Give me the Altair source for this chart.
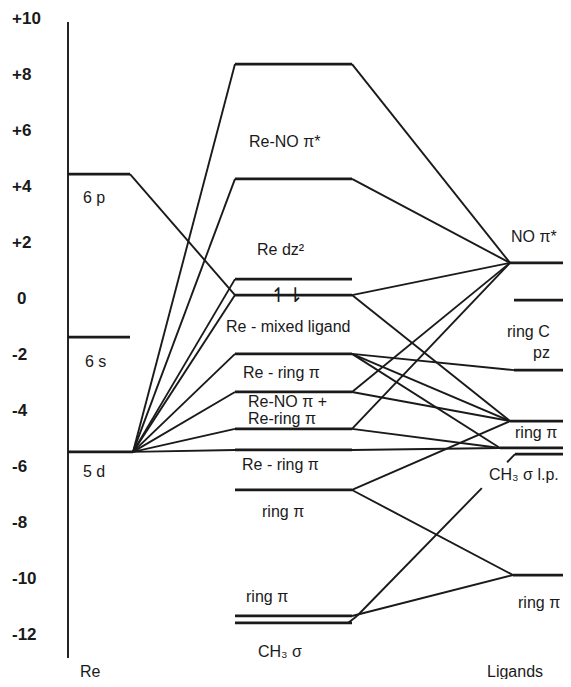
import altair as alt
import pandas as pd

# ---------------- data (energies in eV) ----------------
TICK_VALUES = [10, 8, 6, 4, 2, 0, -2, -4, -6, -8, -10, -12]
TICK_LABELS = ["+10", "+8", "+6", "+4", "+2", "0", "-2", "-4", "-6", "-8", "-10", "-12"]

RE_NAMES = ["6 p", "6 s", "5 d"]
RE_ENERGY = [4.46, -1.36, -5.46]

MO_ENERGY = [8.39, 4.29, 0.71, 0.14, -1.96, -3.32, -4.64, -5.39, -6.82, -11.32, -11.57]

LIG_NAMES = ["NO π*", "ring C pz (a)", "ring C pz (b)", "ring π (a)", "ring π (b)", "CH3 σ l.p.", "ring π (c)"]
LIG_ENERGY = [1.29, -0.04, -2.54, -4.36, -5.32, -5.54, -9.86]

# correlation lines
RE_TO_MO = [(0, 3), (2, 0), (2, 1), (2, 2), (2, 3), (2, 4), (2, 5), (2, 6), (2, 7)]
MO_TO_LIG = [(0, 0), (1, 0), (3, 0), (3, 3), (4, 2), (4, 3), (4, 4), (5, 0), (5, 3),
             (6, 0), (6, 4), (7, 4), (8, 3), (8, 6), (9, 6)]

MO_TEXT = ["Re-NO π*", "Re dz²", "Re - mixed ligand", "Re - ring π", "Re-NO π +",
           "Re-ring π", "Re - ring π", "ring π", "ring  π", "CH₃  σ"]
MO_TEXT_E = [5.61, 1.75, -1.0, -2.64, -3.68, -4.29, -5.93, -7.61, -10.64, -12.61]
LIG_TEXT = ["NO π*", "ring C", "pz", "ring π", "CH₃ σ l.p.", "ring π"]
LIG_TEXT_E = [2.21, -1.18, -1.93, -4.79, -6.29, -10.86]
RE_TEXT_E = [3.61, -2.25, -6.18]

# ---------------- layout (page columns) ----------------
AXIS_X = 68
RE_X0, RE_X1, FAN_X = 68, 130, 133
MO_X0, MO_X1 = 235, 352
LIG_X0 = [510, 514, 514, 510, 500, 515, 513]
RIGHT = 571
AXIS_TOP, AXIS_BOT = 9.89, -12.82

levels, links = [], []
for i, e in enumerate(RE_ENERGY):
    levels.append(dict(x=RE_X0, x2=RE_X1 if i < 2 else FAN_X, y=e, y2=e))
for e in MO_ENERGY:
    levels.append(dict(x=MO_X0, x2=MO_X1, y=e, y2=e))
for x0, e in zip(LIG_X0, LIG_ENERGY):
    levels.append(dict(x=x0, x2=RIGHT, y=e, y2=e))

for r, m in RE_TO_MO:
    sx = RE_X1 if r == 0 else FAN_X
    links.append(dict(x=sx, x2=MO_X0, y=RE_ENERGY[r], y2=MO_ENERGY[m]))
for m, l in MO_TO_LIG:
    links.append(dict(x=MO_X1, x2=LIG_X0[l], y=MO_ENERGY[m], y2=LIG_ENERGY[l]))
# ring pi (MO 9) -> CH3 sigma l.p., broken behind its label
x0, y0, x1, y1 = MO_X1 + 5, MO_ENERGY[9], LIG_X0[5], LIG_ENERGY[5]
for t0, t1 in [(0.0, 0.79), (0.95, 1.0)]:
    links.append(dict(x=x0 + (x1 - x0) * t0, x2=x0 + (x1 - x0) * t1,
                      y=y0 + (y1 - y0) * t0, y2=y0 + (y1 - y0) * t1))
# CH3 sigma joins ring pi end
links.append(dict(x=MO_X1 - 4, x2=MO_X1 + 5, y=MO_ENERGY[10], y2=MO_ENERGY[9]))
links.append(dict(x=AXIS_X, x2=AXIS_X, y=AXIS_TOP, y2=AXIS_BOT))

lev_df = pd.DataFrame(levels)
link_df = pd.DataFrame(links)

xs = alt.Scale(domain=[8, 563], range=[0, 555], nice=False, zero=False)
ys = alt.Scale(domain=[-13.571, 10.393], range=[671, 0], nice=False, zero=False)
X = alt.X("x:Q", scale=xs, axis=None)
Y = alt.Y("y:Q", scale=ys, axis=None)

INK = "#1a1a1a"
lev_layer = alt.Chart(lev_df).mark_rule(color=INK, strokeWidth=2.8, strokeCap="butt").encode(
    x=X, x2="x2:Q", y=Y, y2="y2:Q")
link_layer = alt.Chart(link_df).mark_rule(color=INK, strokeWidth=1.9).encode(
    x=X, x2="x2:Q", y=Y, y2="y2:Q")

tick_df = pd.DataFrame({"t": TICK_LABELS, "y": TICK_VALUES, "x": [12] * len(TICK_VALUES)})
tick_df.loc[tick_df.t == "0", "x"] = 17
tick_layer = alt.Chart(tick_df).mark_text(
    align="left", baseline="middle", font="Liberation Sans", fontSize=17, fontWeight="bold", color=INK
).encode(x=X, y=Y, text="t:N")

txt = []
for name, e, x in zip(RE_NAMES, RE_TEXT_E, [83, 85, 83]):
    txt.append(dict(t=name, x=x, y=e))
mo_x = [249, 257, 226, 243, 248, 248, 242, 262, 246, 258]
for name, e, x in zip(MO_TEXT, MO_TEXT_E, mo_x):
    txt.append(dict(t=name, x=x, y=e))
lig_x = [511, 507, 533, 515, 489, 518]
for name, e, x in zip(LIG_TEXT, LIG_TEXT_E, lig_x):
    txt.append(dict(t=name, x=x, y=e))
txt.append(dict(t="Re", x=80, y=-13.32))
txt.append(dict(t="Ligands", x=487, y=-13.32))
txt_df = pd.DataFrame(txt)
txt_layer = alt.Chart(txt_df).mark_text(
    align="left", baseline="middle", font="Liberation Sans", fontSize=16, color=INK
).encode(x=X, y=Y, text="t:N")

spin_df = pd.DataFrame({"t": ["↿⇂"], "x": [287], "y": [MO_ENERGY[3] - 0.05]})
spin_layer = alt.Chart(spin_df).mark_text(
    align="center", baseline="middle", font="DejaVu Sans", fontSize=20, color=INK
).encode(x=X, y=Y, text="t:N")

chart = alt.layer(link_layer, lev_layer, tick_layer, txt_layer, spin_layer).properties(
    width=555, height=671, padding=0,
    autosize=alt.AutoSizeParams(type="none")
).configure_view(stroke=None)

chart.save("out.html", embed_options={"renderer": "svg", "actions": False})
